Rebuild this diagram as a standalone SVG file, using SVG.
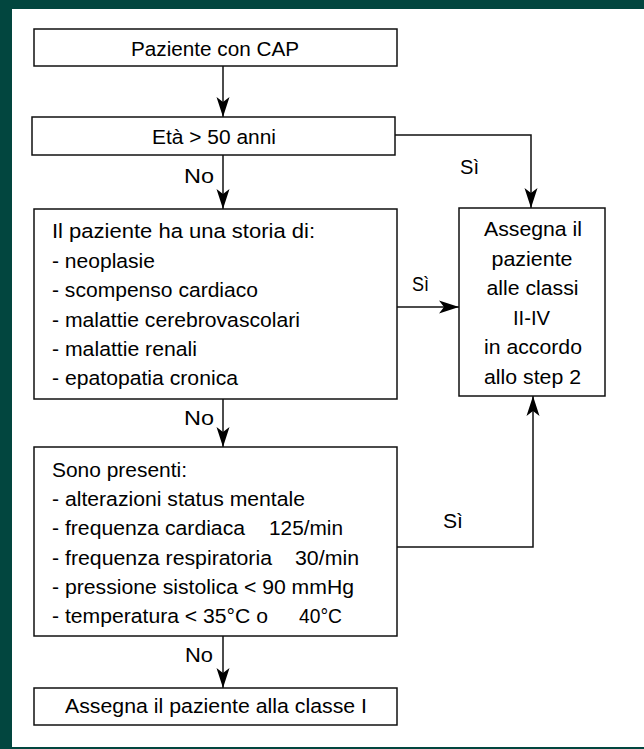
<svg xmlns="http://www.w3.org/2000/svg" width="644" height="749" viewBox="0 0 644 749">
<style>
.box{fill:#fff;stroke:#111;stroke-width:1.5}
.t{font-family:"Liberation Sans",Arial,Helvetica,sans-serif;font-size:19.3px;fill:#000}
.c{text-anchor:middle}
.con{fill:none;stroke:#111;stroke-width:1.5}
</style>
<defs>
<marker id="ah" markerUnits="userSpaceOnUse" viewBox="-21 -7 22 14" markerWidth="22" markerHeight="14" refX="0" refY="0" orient="auto">
<path d="M0,0 L-20,-6.5 L-15,0 L-20,6.5 Z" fill="#000"/>
</marker>
</defs>
<rect x="0" y="0" width="644" height="749" fill="#02463f"/>
<rect x="12" y="9" width="632" height="738" fill="#fff"/>
<g id="connectors">
<line class="con" x1="223" y1="66" x2="223" y2="117" marker-end="url(#ah)"/>
<line class="con" x1="223" y1="155" x2="223" y2="209" marker-end="url(#ah)"/>
<line class="con" x1="223" y1="399" x2="223" y2="447" marker-end="url(#ah)"/>
<line class="con" x1="223" y1="636" x2="223" y2="688" marker-end="url(#ah)"/>
<polyline class="con" points="393,135 531,135 531,208" marker-end="url(#ah)"/>
<line class="con" x1="397" y1="307" x2="459" y2="307" marker-end="url(#ah)"/>
<polyline class="con" points="397,547 533,547 533,396" marker-end="url(#ah)"/>
<text class="t" x="184" y="183" textLength="30" lengthAdjust="spacingAndGlyphs">No</text>
<text class="t" x="460" y="174" textLength="19" lengthAdjust="spacingAndGlyphs">Sì</text>
<text class="t" x="412" y="291" textLength="17" lengthAdjust="spacingAndGlyphs">Sì</text>
<text class="t" x="184" y="425" textLength="30" lengthAdjust="spacingAndGlyphs">No</text>
<text class="t" x="443" y="528" textLength="20" lengthAdjust="spacingAndGlyphs">Sì</text>
<text class="t" x="185" y="662" textLength="28" lengthAdjust="spacingAndGlyphs">No</text>
</g>
<g id="n1">
<rect class="box" x="34" y="29" width="363" height="37"/>
<text class="t c" x="215" y="56" textLength="168" lengthAdjust="spacingAndGlyphs">Paziente con CAP</text>
</g>
<g id="n2">
<rect class="box" x="32" y="117" width="363" height="38"/>
<text class="t c" x="214" y="144" textLength="124" lengthAdjust="spacingAndGlyphs">Età &gt; 50 anni</text>
</g>
<g id="n3">
<rect class="box" x="34" y="209" width="363" height="190"/>
<text class="t" x="52" y="238" textLength="263" lengthAdjust="spacingAndGlyphs">Il paziente ha una storia di:</text>
<text class="t" x="52" y="267.5" textLength="103" lengthAdjust="spacingAndGlyphs">- neoplasie</text>
<text class="t" x="52" y="297" textLength="206" lengthAdjust="spacingAndGlyphs">- scompenso cardiaco</text>
<text class="t" x="52" y="326.5" textLength="248" lengthAdjust="spacingAndGlyphs">- malattie cerebrovascolari</text>
<text class="t" x="52" y="356" textLength="145" lengthAdjust="spacingAndGlyphs">- malattie renali</text>
<text class="t" x="52" y="385" textLength="186" lengthAdjust="spacingAndGlyphs">- epatopatia cronica</text>
</g>
<g id="n4">
<rect class="box" x="459" y="208" width="146" height="188"/>
<text class="t c" x="533" y="236" textLength="98" lengthAdjust="spacingAndGlyphs">Assegna il</text>
<text class="t c" x="532" y="265.5" textLength="81" lengthAdjust="spacingAndGlyphs">paziente</text>
<text class="t c" x="532.5" y="295" textLength="92" lengthAdjust="spacingAndGlyphs">alle classi</text>
<text class="t c" x="531.5" y="324.5" textLength="37" lengthAdjust="spacingAndGlyphs">II-IV</text>
<text class="t c" x="533" y="354" textLength="98" lengthAdjust="spacingAndGlyphs">in accordo</text>
<text class="t c" x="532.5" y="383.5" textLength="97" lengthAdjust="spacingAndGlyphs">allo step 2</text>
</g>
<g id="n5">
<rect class="box" x="34" y="447" width="363" height="189"/>
<text class="t" x="52" y="477" textLength="135" lengthAdjust="spacingAndGlyphs">Sono presenti:</text>
<text class="t" x="52" y="506" textLength="253" lengthAdjust="spacingAndGlyphs">- alterazioni status mentale</text>
<text class="t" x="52" y="535" textLength="193" lengthAdjust="spacingAndGlyphs">- frequenza cardiaca</text>
<text class="t" x="269" y="535" textLength="74" lengthAdjust="spacingAndGlyphs">125/min</text>
<text class="t" x="52" y="564.5" textLength="220" lengthAdjust="spacingAndGlyphs">- frequenza respiratoria</text>
<text class="t" x="295" y="564.5" textLength="64" lengthAdjust="spacingAndGlyphs">30/min</text>
<text class="t" x="52" y="594" textLength="302" lengthAdjust="spacingAndGlyphs">- pressione sistolica &lt; 90 mmHg</text>
<text class="t" x="52" y="623" textLength="216" lengthAdjust="spacingAndGlyphs">- temperatura &lt; 35°C o</text>
<text class="t" x="299" y="623" textLength="43" lengthAdjust="spacingAndGlyphs">40°C</text>
</g>
<g id="n6">
<rect class="box" x="34" y="688" width="363" height="37"/>
<text class="t c" x="216" y="713" textLength="302" lengthAdjust="spacingAndGlyphs">Assegna il paziente alla classe I</text>
</g>
</svg>
